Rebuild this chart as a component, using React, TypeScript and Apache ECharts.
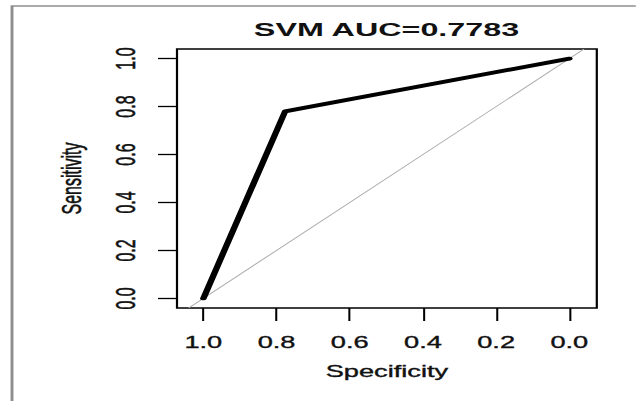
import React, { useEffect, useRef } from "react";
import * as echarts from "echarts";

const titleText = "SVM AUC=0.7783";
const xName = "Specificity";
const yName = "Sensitivity";
const xTicks = [0, 0.2, 0.4, 0.6, 0.8, 1.0];
const yTicks = [0, 0.2, 0.4, 0.6, 0.8, 1.0];
const rocSpecificity = [1.0, 0.7766, 0.0];
const rocSensitivity = [0.0, 0.78, 1.0];
const diagSpecificity = [1.04, -0.04];
const diagSensitivity = [-0.04, 1.04];

// The reference picture is horizontally stretched; reproduce with CSS scaleX.
const STRETCH = 1.7;
const W = 636 / STRETCH;
const H = 401;
const FONT = "'Liberation Sans', Arial, sans-serif";
const TEXT_COLOR = "#111";
const heavy = { textBorderColor: TEXT_COLOR, textBorderWidth: 0.35 };

export default function App() {
  const ref = useRef<HTMLDivElement>(null);
  useEffect(() => {
    if (!ref.current) return;
    const chart = echarts.init(ref.current, null, { renderer: "svg" });
    const gridLeft = 177 / STRETCH;
    const gridRight = W - 597 / STRETCH;
    const titleCenter = 378 / STRETCH;
    chart.setOption({
      animation: false,
      backgroundColor: "#ffffff",
      title: {
        text: titleText,
        left: titleCenter,
        textAlign: "center",
        top: 15,
        textStyle: { fontFamily: FONT, fontSize: 19, fontWeight: "bold", color: TEXT_COLOR },
      },
      graphic: [
        {
          type: "rect",
          shape: { x: 12 / STRETCH, y: 6, width: 600, height: 600 },
          style: { fill: "none", stroke: "#8e8e8e", lineWidth: 1.7 },
          silent: true,
        },
      ],
      grid: {
        left: gridLeft,
        right: gridRight,
        top: 49,
        bottom: H - 308,
        show: true,
        borderColor: "#000",
        borderWidth: 1.3,
        backgroundColor: "transparent",
      },
      xAxis: {
        type: "value",
        inverse: true,
        min: -0.075,
        max: 1.072,
        name: xName,
        nameLocation: "middle",
        nameGap: 56,
        nameTextStyle: { fontFamily: FONT, fontSize: 16, color: TEXT_COLOR, ...heavy },
        splitLine: { show: false },
        axisLine: { show: false, onZero: false },
        axisTick: {
          show: true,
          customValues: xTicks,
          length: 13,
          lineStyle: { color: "#000", width: 1.2 },
        },
        axisLabel: {
          customValues: xTicks,
          formatter: (v: number) => v.toFixed(1),
          fontFamily: FONT,
          fontSize: 16,
          color: TEXT_COLOR,
          margin: 27,
          ...heavy,
        },
      },
      yAxis: {
        type: "value",
        min: -0.04,
        max: 1.04,
        name: yName,
        nameLocation: "middle",
        nameRotate: 90,
        nameGap: 54,
        nameTextStyle: { fontFamily: FONT, fontSize: 16, color: TEXT_COLOR, ...heavy },
        splitLine: { show: false },
        axisLine: { show: false, onZero: false },
        axisTick: {
          show: true,
          customValues: yTicks,
          length: 19 / STRETCH,
          lineStyle: { color: "#000", width: 1.3 },
        },
        axisLabel: {
          customValues: yTicks,
          rotate: 90,
          formatter: (v: number) => v.toFixed(1),
          fontFamily: FONT,
          fontSize: 16,
          color: TEXT_COLOR,
          margin: 22,
          ...heavy,
        },
      },
      series: [
        {
          type: "line",
          data: diagSpecificity.map((s, i) => [s, diagSensitivity[i]]),
          symbol: "none",
          lineStyle: { color: "#ababab", width: 0.8 },
          silent: true,
        },
        {
          type: "line",
          data: rocSpecificity.map((s, i) => [s, rocSensitivity[i]]),
          symbol: "none",
          lineStyle: { color: "#000", width: 3.8, join: "round", cap: "round" },
          silent: true,
        },
      ],
    });
    return () => chart.dispose();
  }, []);
  return (
    <div
      ref={ref}
      style={{
        position: "fixed",
        left: 0,
        top: 0,
        width: W,
        height: H,
        transform: `scaleX(${STRETCH})`,
        transformOrigin: "0 0",
        background: "#fff",
      }}
    />
  );
}
